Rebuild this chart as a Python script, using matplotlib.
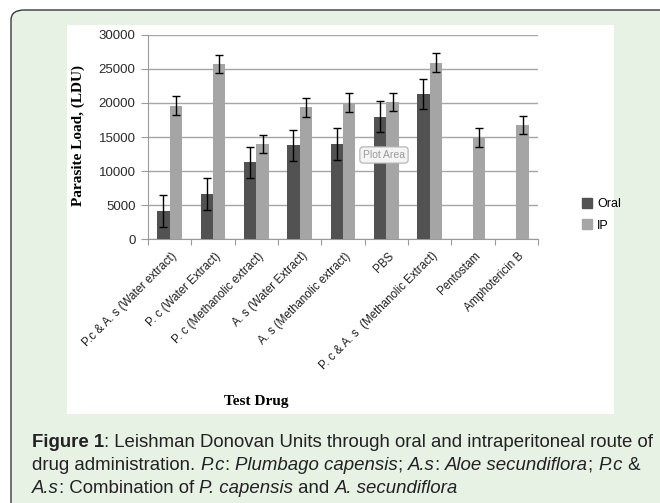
import matplotlib.pyplot as plt
import matplotlib
import numpy as np
from matplotlib.patches import FancyBboxPatch, Rectangle
from matplotlib.lines import Line2D

# 数据
drugs = ['P.c & A. s (Water extract)', 'P. c (Water Extract)', 'P. c (Methanolic extract)',
         'A. s (Water Extract)', 'A. s (Methanolic extract)', 'PBS',
         'P. c & A. s  (Methanolic Extract)', 'Pentostam', 'Amphotericin B']
oral = [4100, 6600, 11250, 13750, 13950, 18000, 21300, np.nan, np.nan]
oral_err = [2300, 2300, 2300, 2300, 2300, 2300, 2200, np.nan, np.nan]
ip = [19600, 25750, 13950, 19350, 20050, 20150, 25950, 14950, 16800]
ip_err = [1400, 1350, 1350, 1350, 1350, 1350, 1350, 1350, 1350]
yticks = [0, 5000, 10000, 15000, 20000, 25000, 30000]

W, H = 660, 503
fig = plt.figure(figsize=(W / 100, H / 100), dpi=100)
fig.patch.set_facecolor('white')

# 背景面板（浅绿色，圆角边框）
panel = FancyBboxPatch((11 / W, -0.2), 1.2, (H - 10) / H + 0.2,
                       boxstyle='round,pad=0,rounding_size=0.02',
                       transform=fig.transFigure, facecolor='#e7f1e4',
                       edgecolor='#3a3a3a', linewidth=1.0, zorder=0)
fig.patches.append(panel)
# 白色图表区
fig.patches.append(Rectangle((67 / W, 1 - 414 / H), 547 / W, 389 / H,
                             transform=fig.transFigure, facecolor='white',
                             edgecolor='none', zorder=1))

ax = fig.add_axes([148 / W, 1 - 239 / H, 390 / W, 204 / H])
ax.set_zorder(2)
ax.patch.set_alpha(0)

x = np.arange(len(drugs))
bw = 0.286
ekw = dict(ecolor='black', elinewidth=1.0, capsize=3, capthick=1.0)
ax.bar(x - bw / 2, oral, bw, yerr=oral_err, color='#525252', error_kw=ekw, zorder=3, label='Oral')
ax.bar(x + bw / 2, ip, bw, yerr=ip_err, color='#a5a5a5', error_kw=ekw, zorder=3, label='IP')

ax.set_xlim(-0.5, len(drugs) - 0.5)
ax.set_ylim(0, 30000)
ax.set_yticks(yticks)
ax.set_yticklabels([str(v) for v in yticks], fontsize=9.5, color='#2a2a2a', family='Liberation Sans')
ax.yaxis.grid(True, color='#a6a6a6', linewidth=1.0, zorder=0)
ax.set_axisbelow(True)
for s in ['top', 'right']:
    ax.spines[s].set_visible(False)
ax.spines['left'].set_color('#9a9a9a')
ax.spines['bottom'].set_color('#9a9a9a')
ax.tick_params(axis='y', length=5, color='#9a9a9a', pad=4)

# x 轴刻度放在类别之间
ax.set_xticks(np.arange(len(drugs) + 1) - 0.5)
ax.set_xticklabels([])
ax.tick_params(axis='x', length=4, color='#9a9a9a')
for i, name in enumerate(drugs):
    ax.annotate(name, xy=(i, 0), xycoords=('data', 'axes fraction'),
                xytext=(1, -8), textcoords='offset points',
                rotation=45, ha='right', va='top', rotation_mode='anchor',
                fontsize=8.3, color='#1e1e1e', family='Liberation Sans')

fig.text(78 / W, 1 - 136 / H, 'Parasite Load, (LDU)', rotation=90, ha='center', va='center',
         fontsize=11, fontweight='bold', family='Liberation Serif')
fig.text(256 / W, 1 - 402 / H, 'Test Drug', ha='center', va='center',
         fontsize=11, fontweight='bold', family='Liberation Serif')

# 图例
handles = [Line2D([], [], marker='s', linestyle='none', markersize=6.5, color='#525252'),
           Line2D([], [], marker='s', linestyle='none', markersize=6.5, color='#a5a5a5')]
fig.legend(handles, ['Oral', 'IP'], loc='center left', bbox_to_anchor=(576 / W, 1 - 215 / H),
           frameon=False, prop={'family': 'Liberation Sans', 'size': 9},
           handlelength=0.8, handletextpad=0.4, labelspacing=0.75, borderpad=0)

# 截图中的提示框
fig.text(384 / W, 1 - 155 / H, 'Plot Area', ha='center', va='center', fontsize=7.5,
         color='#9a9a9a', family='Liberation Sans', zorder=5,
         bbox=dict(boxstyle='round,pad=0.3', facecolor='#f4f4f4', edgecolor='#b0b0b0', linewidth=0.8))

# 图注（混合字体样式）
caption = [
    [('Figure 1', 'bold', 'normal'), (': Leishman Donovan Units through oral and intraperitoneal route of', 'normal', 'normal')],
    [('drug administration. ', 'normal', 'normal'), ('P.c', 'normal', 'italic'), (': ', 'normal', 'normal'),
     ('Plumbago capensis', 'normal', 'italic'), ('; ', 'normal', 'normal'), ('A.s', 'normal', 'italic'),
     (': ', 'normal', 'normal'), ('Aloe secundiflora', 'normal', 'italic'), ('; ', 'normal', 'normal'),
     ('P.c', 'normal', 'italic'), (' &', 'normal', 'normal')],
    [('A.s', 'normal', 'italic'), (': Combination of ', 'normal', 'normal'), ('P. capensis', 'normal', 'italic'),
     (' and ', 'normal', 'normal'), ('A. secundiflora', 'normal', 'italic')],
]
baselines = [447, 470, 493]
renderer = fig.canvas.get_renderer()
for line, yb in zip(caption, baselines):
    xpos = 32
    for txt, wt, st in line:
        t = fig.text(xpos / W, 1 - yb / H, txt, ha='left', va='baseline', fontsize=13.4,
                     fontweight=wt, fontstyle=st, family='Liberation Sans', color='#222222')
        bb = t.get_window_extent(renderer=renderer)
        xpos += bb.width

fig.savefig('out.png', dpi=100)
